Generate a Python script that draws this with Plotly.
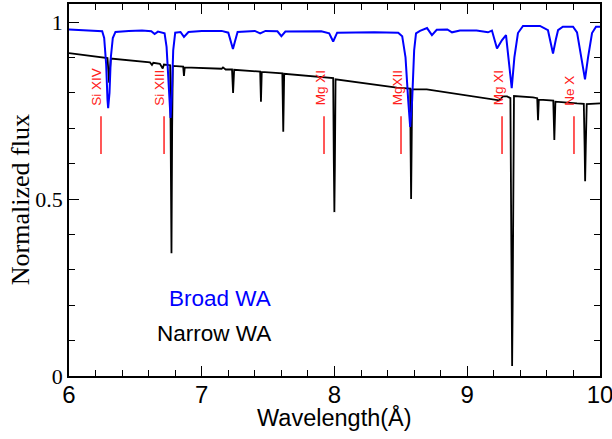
import plotly.graph_objects as go

# Broad warm absorber model (blue)
blue_wl = [6.00, 6.20, 6.25, 6.265, 6.28, 6.29, 6.295, 6.305, 6.315, 6.33, 6.35,
           6.45, 6.55, 6.62, 6.645, 6.67, 6.70, 6.72, 6.735, 6.75, 6.765, 6.775,
           6.785, 6.80, 6.84, 6.866, 6.90, 7.00, 7.15, 7.20, 7.22, 7.235, 7.25,
           7.27, 7.40, 7.44, 7.48, 7.57, 7.60, 7.63, 7.90, 7.96, 7.99, 8.02,
           8.30, 8.48, 8.51, 8.535, 8.555, 8.57, 8.585, 8.60, 8.614, 8.644,
           8.697, 8.734, 8.77, 8.85, 8.885, 8.945, 9.07, 9.156, 9.186, 9.224,
           9.262, 9.292, 9.31, 9.335, 9.355, 9.382, 9.42, 9.548, 9.608, 9.625,
           9.646, 9.667, 9.684, 9.72, 9.797, 9.827, 9.86, 9.887, 9.91, 9.94,
           9.97, 10.0]
blue_flux = [0.979, 0.976, 0.974, 0.955, 0.88, 0.78, 0.757, 0.80, 0.90, 0.955, 0.972,
             0.975, 0.976, 0.974, 0.966, 0.973, 0.970, 0.968, 0.93, 0.82, 0.729, 0.80,
             0.92, 0.970, 0.972, 0.958, 0.972, 0.975, 0.975, 0.970, 0.945, 0.924, 0.945,
             0.972, 0.975, 0.968, 0.975, 0.974, 0.960, 0.973, 0.974, 0.968, 0.945, 0.970,
             0.971, 0.970, 0.960, 0.90, 0.78, 0.704, 0.78, 0.92, 0.968, 0.975,
             0.983, 0.963, 0.978, 0.979, 0.971, 0.976, 0.976, 0.971, 0.976, 0.925,
             0.949, 0.963, 0.90, 0.813, 0.90, 0.969, 0.989, 0.989, 0.977, 0.95,
             0.911, 0.95, 0.977, 0.987, 0.987, 0.971, 0.90, 0.838, 0.90, 0.969,
             0.987, 0.987]

# Narrow warm absorber model (black)
black_wl = [6.00, 6.256, 6.29, 6.297, 6.302, 6.307, 6.315, 6.61, 6.625, 6.635,
            6.685, 6.706, 6.715, 6.762, 6.767, 6.772, 6.777, 6.782, 6.86, 6.866,
            6.872, 7.15, 7.16, 7.18, 7.228, 7.236, 7.244, 7.44, 7.446, 7.452,
            7.607, 7.614, 7.621, 7.913, 7.99, 7.995, 7.999, 8.003, 8.008, 8.469,
            8.57, 8.573, 8.577, 8.581, 8.585, 8.695, 8.968, 9.222, 9.24, 9.27,
            9.30, 9.325, 9.331, 9.335, 9.338, 9.342, 9.347, 9.352, 9.495, 9.527,
            9.533, 9.539, 9.571, 9.648, 9.656, 9.664, 9.827, 9.878, 9.884, 9.888,
            9.893, 9.90, 10.0]
black_flux = [0.912, 0.900, 0.898, 0.86, 0.829, 0.86, 0.897, 0.886, 0.879, 0.885,
              0.882, 0.869, 0.880, 0.878, 0.70, 0.347, 0.70, 0.876, 0.874, 0.848,
              0.872, 0.868, 0.872, 0.866, 0.866, 0.800, 0.865, 0.860, 0.775, 0.859,
              0.855, 0.690, 0.854, 0.844, 0.842, 0.60, 0.463, 0.60, 0.838, 0.815,
              0.812, 0.65, 0.50, 0.65, 0.810, 0.810, 0.794, 0.781, 0.779, 0.790,
              0.790, 0.785, 0.50, 0.10, 0.028, 0.20, 0.60, 0.791, 0.787, 0.785,
              0.723, 0.780, 0.780, 0.778, 0.667, 0.775, 0.770, 0.769, 0.65, 0.55,
              0.65, 0.768, 0.770]

# Ion markers
ion_labels = ["Si XIV", "Si XIII", "Mg XI", "MgXII", "Mg XI", "Ne X"]
ion_wl = [6.241, 6.716, 7.921, 8.501, 9.262, 9.804]
marker_top = 0.734
marker_bottom = 0.627
label_base = 0.758

model_names = ["Broad WA", "Narrow WA"]
model_colors = ["#0000ff", "#000000"]

x_ticks = [6, 7, 8, 9, 10]
y_ticks = [0, 0.5, 1]
y_ticklabels = ["0", "0.5", "1"]

fig = go.Figure()

mx, my = [], []
for w in ion_wl:
    mx += [w, w, None]
    my += [marker_bottom, marker_top, None]
fig.add_trace(go.Scatter(x=mx, y=my, mode="lines",
                         line=dict(color="#ff2020", width=1.5),
                         showlegend=False, hoverinfo="skip"))

fig.add_trace(go.Scatter(x=black_wl, y=black_flux, mode="lines",
                         line=dict(color=model_colors[1], width=1.8),
                         name=model_names[1], showlegend=False))
fig.add_trace(go.Scatter(x=blue_wl, y=blue_flux, mode="lines",
                         line=dict(color=model_colors[0], width=2),
                         name=model_names[0], showlegend=False))

for lab, w in zip(ion_labels, ion_wl):
    fig.add_annotation(x=w, y=label_base, text=lab, showarrow=False,
                       textangle=-90, xanchor="center", yanchor="bottom",
                       xshift=-4,
                       font=dict(family="Liberation Sans", size=13.5, color="#ff2020"))

fig.add_annotation(x=7.535, y=0.22, text=model_names[0], showarrow=False,
                   xanchor="right", yanchor="middle",
                   font=dict(family="Liberation Sans", size=22.5, color=model_colors[0]))
fig.add_annotation(x=7.535, y=0.121, text=model_names[1], showarrow=False,
                   xanchor="right", yanchor="middle",
                   font=dict(family="Liberation Sans", size=22.5, color=model_colors[1]))

fig.add_annotation(xref="paper", yref="paper", x=0.5, y=-0.112,
                   text="Wavelength(Å)", showarrow=False,
                   xanchor="center", yanchor="middle",
                   font=dict(family="Liberation Sans", size=23.5, color="black"))
fig.add_annotation(xref="paper", yref="paper", x=-0.092, y=0.473,
                   text="Normalized flux", showarrow=False, textangle=-90,
                   xanchor="center", yanchor="middle",
                   font=dict(family="Liberation Serif", size=26, color="black"))

fig.update_xaxes(range=[6, 10], tickvals=x_ticks, ticktext=[str(t) for t in x_ticks],
                 ticks="inside", ticklen=10, tickwidth=1.2, tickcolor="black",
                 minor=dict(dtick=0.2, ticks="inside", ticklen=6, tickwidth=1.2,
                            tickcolor="black", showgrid=False),
                 showline=True, linecolor="black", linewidth=1.5, mirror="allticks",
                 showgrid=False, zeroline=False, ticklabeloverflow="allow",
                 ticklabelstandoff=-4, automargin=False,
                 tickfont=dict(family="Liberation Sans", size=24, color="black"))
fig.update_yaxes(range=[0, 1.051], tickvals=y_ticks, ticktext=y_ticklabels,
                 ticks="inside", ticklen=10, tickwidth=1.2, tickcolor="black",
                 minor=dict(dtick=0.1, ticks="inside", ticklen=6, tickwidth=1.2,
                            tickcolor="black", showgrid=False),
                 showline=True, linecolor="black", linewidth=1.5, mirror="allticks",
                 showgrid=False, zeroline=False, automargin=False,
                 tickfont=dict(family="Liberation Serif", size=22, color="black"))

fig.update_layout(width=612, height=439,
                  margin=dict(l=69, r=12, t=4, b=63),
                  plot_bgcolor="white", paper_bgcolor="white",
                  showlegend=False)

fig.write_html("out.html")
